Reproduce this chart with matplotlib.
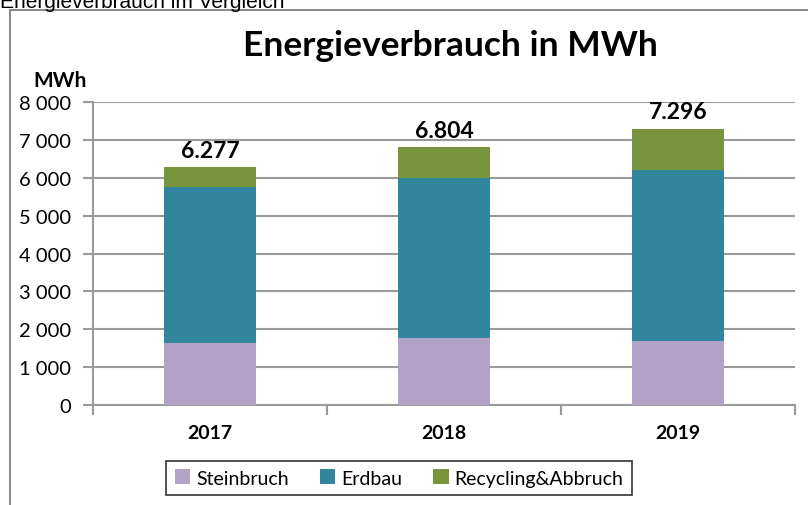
import matplotlib.pyplot as plt
from matplotlib.patches import Rectangle
from matplotlib.ticker import FuncFormatter, FixedLocator
import numpy as np

years = ["2017", "2018", "2019"]
steinbruch = [1650, 1760, 1680]
erdbau = [4110, 4230, 4520]
recycling = [517, 814, 1096]
totals_label = ["6.277", "6.804", "7.296"]

colors = ["#b3a2c7", "#31859c", "#77933c"]
names = ["Steinbruch", "Erdbau", "Recycling&Abbruch"]
FONT = ["Lato", "DejaVu Sans"]
GRID = "#9a9a9a"

W, H = 808, 506
fig = plt.figure(figsize=(W / 100, H / 100), dpi=100)

# outer chart frame (partly cut off on the right/bottom)
fig.patches.append(Rectangle((10 / W, -0.05), 1.2, (H - 11) / H + 0.05,
                             transform=fig.transFigure, fill=False,
                             edgecolor="#8c8c8c", linewidth=1.5))
fig.text(0, 1 - 8 / H, "Energieverbrauch im Vergleich", fontsize=15,
         family="Liberation Sans", va="baseline", ha="left")

ax = fig.add_axes([93 / W, (H - 406) / H, (795 - 93) / W, (406 - 103) / H])
x = np.arange(len(years))
width = 0.39
bottom = np.zeros(len(years))
for vals, c, n in zip([steinbruch, erdbau, recycling], colors, names):
    ax.bar(x, vals, width, bottom=bottom, color=c, label=n, zorder=3)
    bottom += np.array(vals)

for xi, tot, lab in zip(x, bottom, totals_label):
    ax.text(xi, tot + 170, lab, ha="center", va="bottom", fontsize=16.5,
            fontweight="bold", family=FONT)

ax.set_xlim(-0.5, 2.5)
ax.set_ylim(0, 8000)
ax.set_yticks(np.arange(0, 8001, 1000))
ax.yaxis.set_major_formatter(FuncFormatter(lambda v, p: f"{int(v):,}".replace(",", " ")))
ax.grid(axis="y", color=GRID, linewidth=1.5, zorder=0)

ax.set_xticks(x)
ax.set_xticklabels(years, fontweight="bold", fontsize=14, family=FONT)
ax.xaxis.set_minor_locator(FixedLocator([-0.5, 0.5, 1.5, 2.5]))
ax.tick_params(axis="x", which="major", length=0, pad=14)
ax.tick_params(axis="x", which="minor", length=7, width=1.5, color=GRID, direction="out")
ax.tick_params(axis="y", length=7, width=1.5, color=GRID, labelsize=14.5, pad=9)
for t in ax.get_yticklabels():
    t.set_family(FONT)

for s in ["top", "right"]:
    ax.spines[s].set_visible(False)
for s in ["left", "bottom"]:
    ax.spines[s].set_color(GRID)
    ax.spines[s].set_linewidth(1.5)

fig.text(60 / W, 1 - 81 / H, "MWh", fontsize=15, fontweight="bold",
         family=FONT, ha="center", va="center")
fig.text(450 / W, 1 - 46 / H, "Energieverbrauch in MWh", fontsize=25.5,
         fontweight="bold", family=FONT, ha="center", va="center")

leg = fig.legend(loc="center", bbox_to_anchor=(399 / W, 1 - 479 / H), ncol=3,
                 frameon=True, fancybox=False, edgecolor="black",
                 prop={"family": FONT, "size": 14}, handlelength=0.8,
                 handleheight=0.8, handletextpad=0.3, columnspacing=1.6,
                 borderpad=0.45)
leg.get_frame().set_linewidth(1.2)

fig.savefig("out.png", dpi=100)
